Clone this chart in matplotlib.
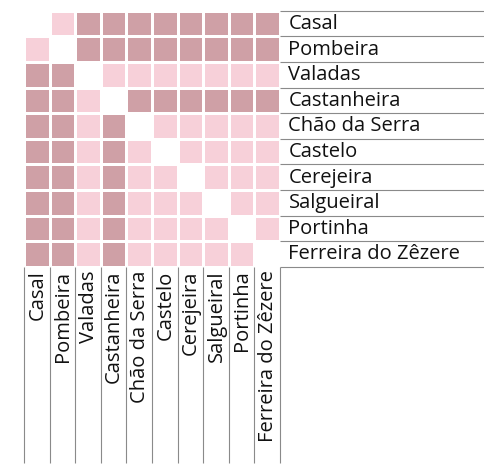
import matplotlib
matplotlib.use("Agg")
import matplotlib.pyplot as plt
from matplotlib.colors import ListedColormap
import numpy as np

# Localidades (linhas e colunas da matriz)
nomes = ['Casal', 'Pombeira', 'Valadas', 'Castanheira', 'Chão da Serra',
         'Castelo', 'Cerejeira', 'Salgueiral', 'Portinha', 'Ferreira do Zêzere']

# 0 = mesma localidade, 1 = diferença fraca, 2 = diferença forte
matriz = [
    [0, 1, 2, 2, 2, 2, 2, 2, 2, 2],
    [1, 0, 2, 2, 2, 2, 2, 2, 2, 2],
    [2, 2, 0, 1, 1, 1, 1, 1, 1, 1],
    [2, 2, 1, 0, 2, 2, 2, 2, 2, 2],
    [2, 2, 1, 2, 0, 1, 1, 1, 1, 1],
    [2, 2, 1, 2, 1, 0, 1, 1, 1, 1],
    [2, 2, 1, 2, 1, 1, 0, 1, 1, 1],
    [2, 2, 1, 2, 1, 1, 1, 0, 1, 1],
    [2, 2, 1, 2, 1, 1, 1, 1, 0, 1],
    [2, 2, 1, 2, 1, 1, 1, 1, 1, 0],
]

cores = ListedColormap(['#ffffff', '#f7d0d9', '#cfa0a6'])
cinza = '#8a8a8a'
fonte = 'Open Sans'
tamanho = 14.5

n = len(nomes)
W, H = 484, 468
fig = plt.figure(figsize=(W / 100, H / 100), dpi=100)

# eixo da matriz em pixeis da figura
x0, y0, lado = 24, 10.7, 256
ax = fig.add_axes([x0 / W, 1 - (y0 + lado) / H, lado / W, lado / H])
ax.pcolormesh(np.array(matriz), cmap=cores, vmin=0, vmax=2,
              edgecolors='white', linewidth=1.0)
ax.set_xlim(0, n)
ax.set_ylim(n, 0)
ax.axis('off')

cel = lado / n
x_fim = (W - x0) / cel
y_fim = (462.5 - y0) / cel

# linhas e nomes a direita
for i in range(n + 1):
    ax.plot([n, x_fim], [i, i], color=cinza, lw=0.8, clip_on=False,
            solid_capstyle='butt')
for i, nome in enumerate(nomes):
    ax.text(n + 0.33, i + 0.52, nome, ha='left', va='center',
            fontsize=tamanho, family=fonte, color='#111111')

# linhas e nomes em baixo
for j in range(n + 1):
    ax.plot([j, j], [n, y_fim], color=cinza, lw=0.8, clip_on=False,
            solid_capstyle='butt')
for j, nome in enumerate(nomes):
    ax.text(j + 0.52, n + 0.15, nome, ha='center', va='top', rotation=90,
            fontsize=tamanho, family=fonte, color='#111111')

fig.savefig('out.png', dpi=100)
